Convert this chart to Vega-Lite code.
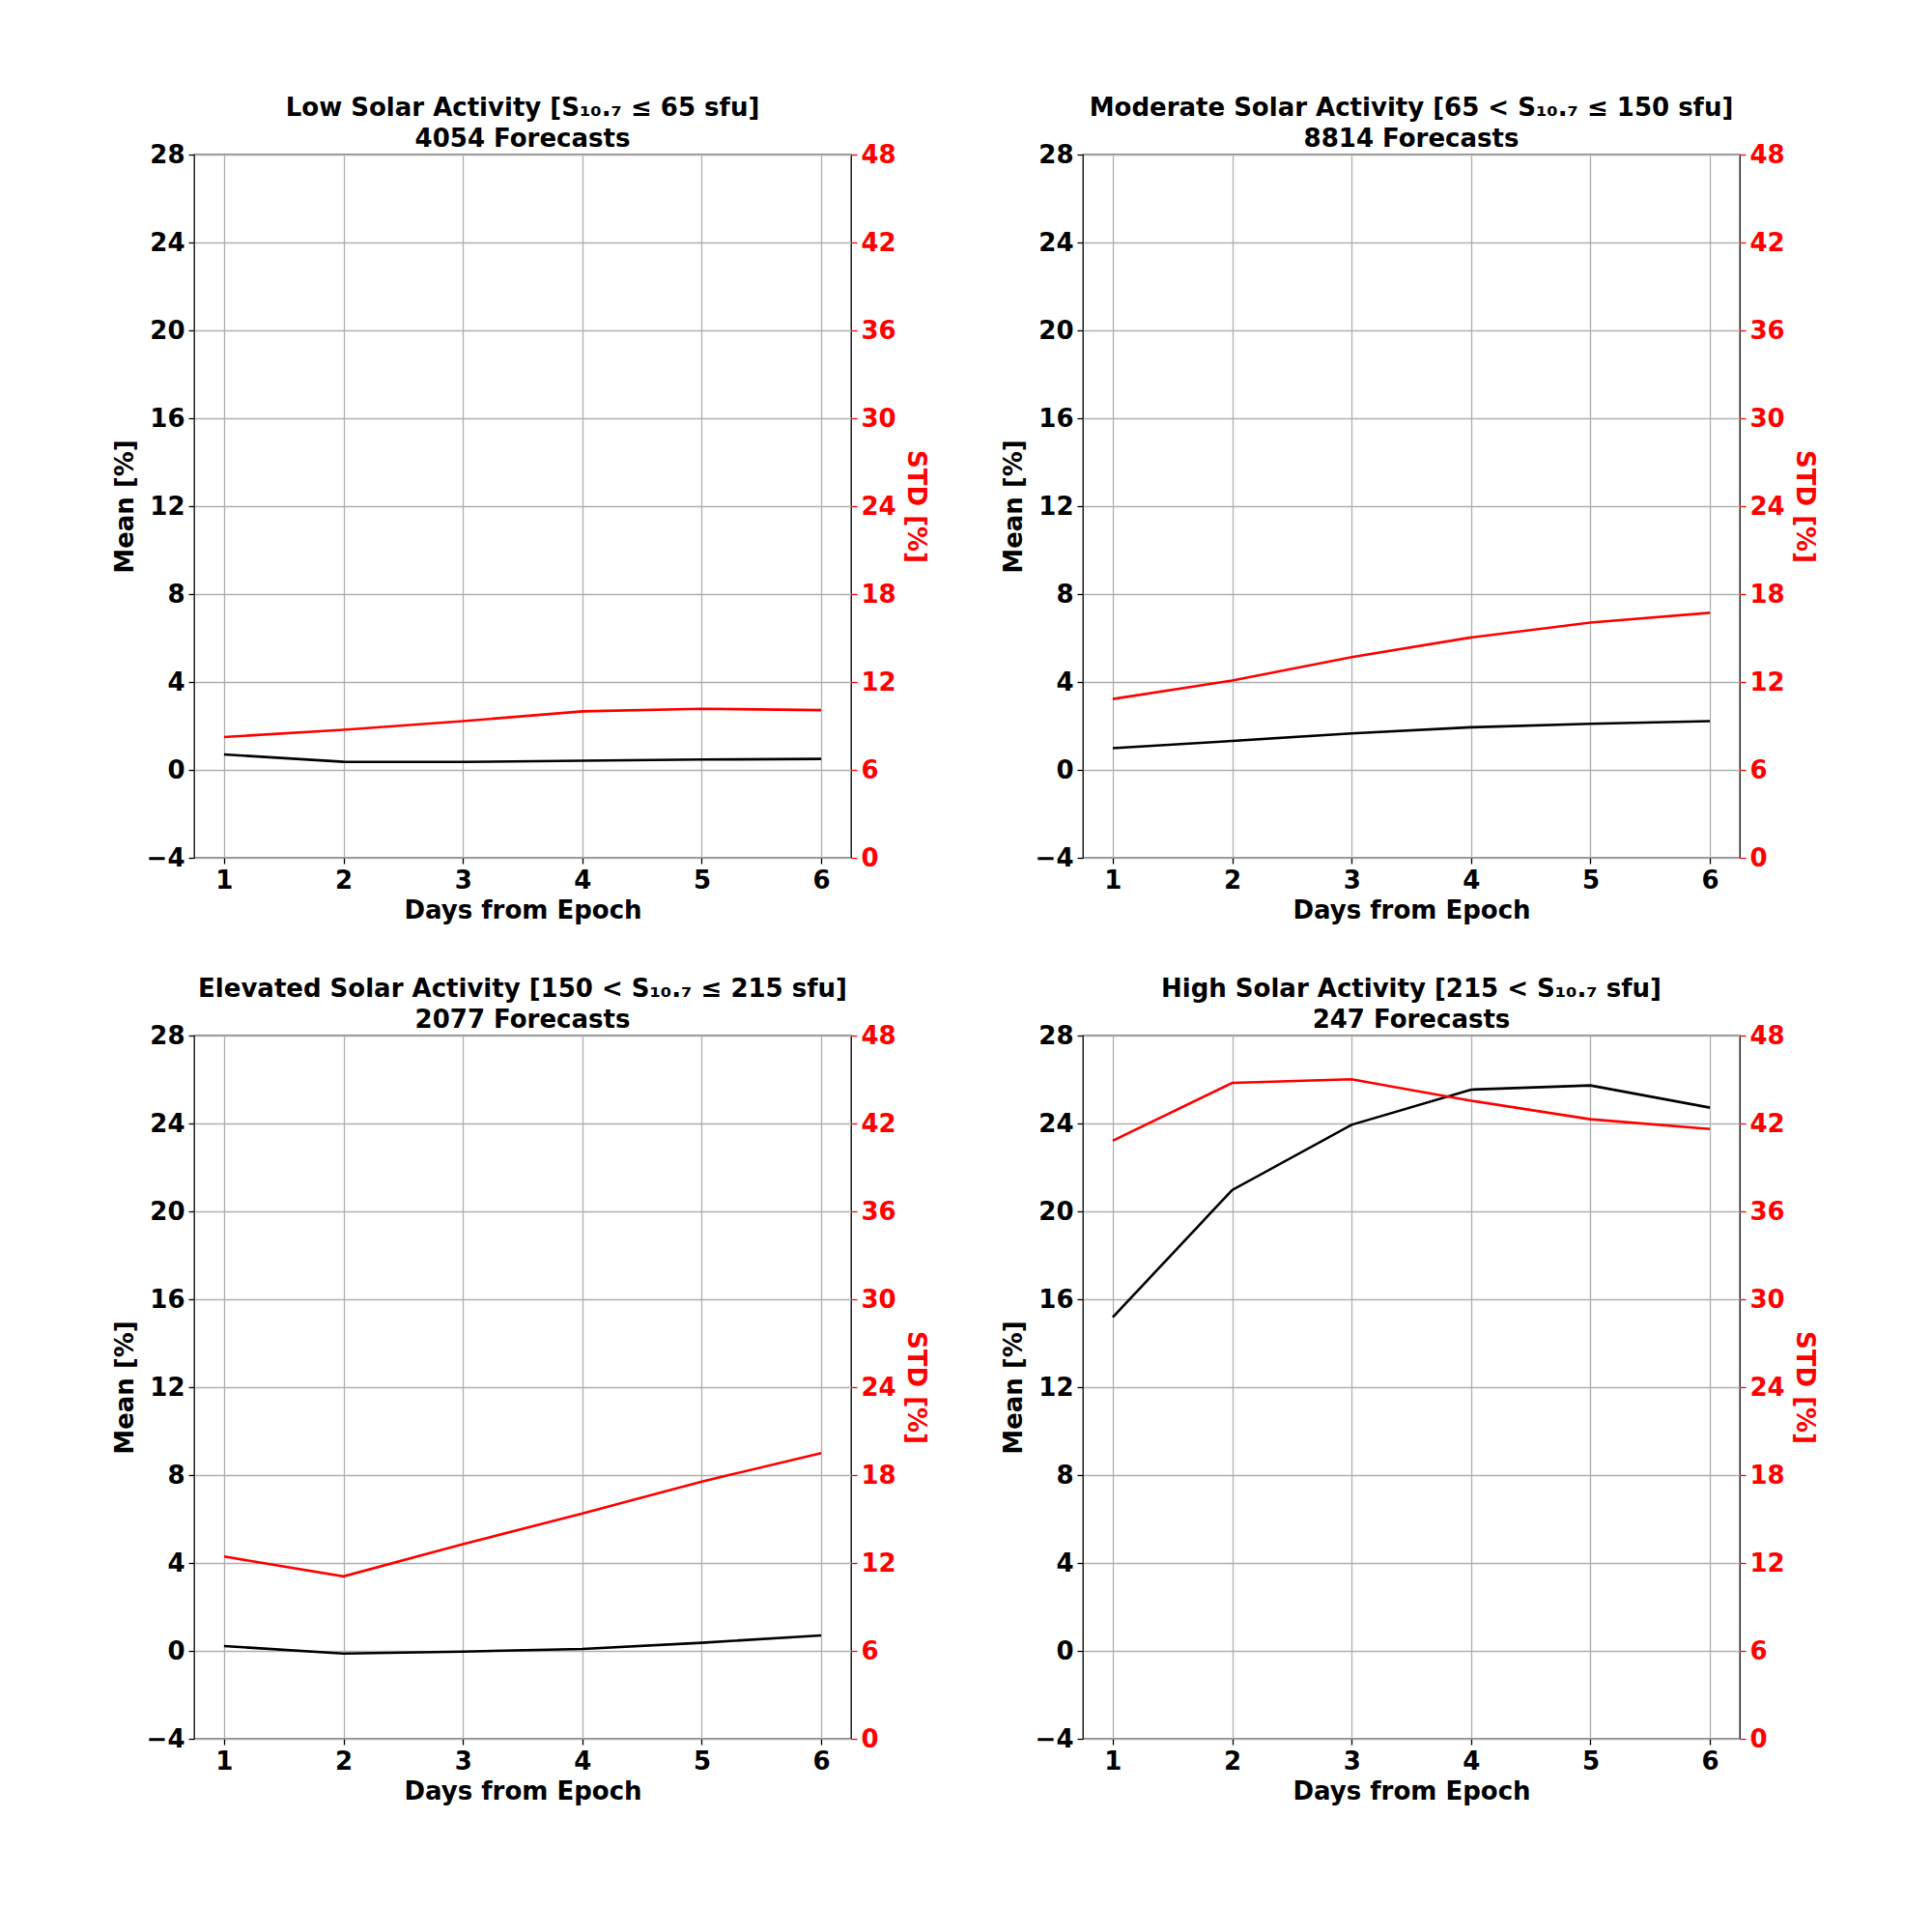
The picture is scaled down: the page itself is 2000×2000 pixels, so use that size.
{
  "$schema": "https://vega.github.io/schema/vega-lite/v6.json",
  "background": "white",
  "padding": {"left": 115, "top": 98, "right": 5, "bottom": 5},
  "datasets": {
    "forecasts": [
      {"activity": "Low", "day": 1, "mean": 0.70, "std": 8.24},
      {"activity": "Low", "day": 2, "mean": 0.37, "std": 8.74},
      {"activity": "Low", "day": 3, "mean": 0.36, "std": 9.33},
      {"activity": "Low", "day": 4, "mean": 0.42, "std": 10.0},
      {"activity": "Low", "day": 5, "mean": 0.47, "std": 10.17},
      {"activity": "Low", "day": 6, "mean": 0.50, "std": 10.08},
      {"activity": "Moderate", "day": 1, "mean": 0.99, "std": 10.84},
      {"activity": "Moderate", "day": 2, "mean": 1.32, "std": 12.1},
      {"activity": "Moderate", "day": 3, "mean": 1.66, "std": 13.7},
      {"activity": "Moderate", "day": 4, "mean": 1.94, "std": 15.04},
      {"activity": "Moderate", "day": 5, "mean": 2.10, "std": 16.05},
      {"activity": "Moderate", "day": 6, "mean": 2.22, "std": 16.72},
      {"activity": "Elevated", "day": 1, "mean": 0.22, "std": 12.44},
      {"activity": "Elevated", "day": 2, "mean": -0.12, "std": 11.09},
      {"activity": "Elevated", "day": 3, "mean": -0.03, "std": 13.28},
      {"activity": "Elevated", "day": 4, "mean": 0.09, "std": 15.38},
      {"activity": "Elevated", "day": 5, "mean": 0.37, "std": 17.56},
      {"activity": "Elevated", "day": 6, "mean": 0.70, "std": 19.5},
      {"activity": "High", "day": 1, "mean": 15.18, "std": 40.82},
      {"activity": "High", "day": 2, "mean": 20.97, "std": 44.77},
      {"activity": "High", "day": 3, "mean": 23.94, "std": 45.02},
      {"activity": "High", "day": 4, "mean": 25.54, "std": 43.55},
      {"activity": "High", "day": 5, "mean": 25.73, "std": 42.29},
      {"activity": "High", "day": 6, "mean": 24.72, "std": 41.62}
    ]
  },
  "columns": 2,
  "spacing": {"row": 54, "column": 74},
  "concat": [
    {
      "title": {"text": ["Low Solar Activity [S₁₀.₇ ≤  65 sfu]", "4054 Forecasts"]},
      "width": 680, "height": 728,
      "data": {"name": "forecasts"},
      "transform": [{"filter": "datum.activity === 'Low'"}],
      "encoding": {
        "x": {"field": "day", "type": "quantitative",
          "scale": {"domain": [0.75, 6.25], "nice": false, "zero": false},
          "axis": {"title": "Days from Epoch", "values": [1, 2, 3, 4, 5, 6], "format": "d", "grid": true, "titlePadding": 5}}
      },
      "layer": [
        {"mark": {"type": "line", "color": "black"},
          "encoding": {"y": {"field": "mean", "type": "quantitative",
            "scale": {"domain": [-4, 28], "nice": false, "zero": false},
            "axis": {"title": "Mean [%]", "orient": "left", "values": [-4, 0, 4, 8, 12, 16, 20, 24, 28], "grid": true}}}},
        {"mark": {"type": "line", "color": "#ff0000"},
          "encoding": {"y": {"field": "std", "type": "quantitative",
            "scale": {"domain": [0, 48], "nice": false, "zero": false},
            "axis": {"title": "STD [%]", "orient": "right", "values": [0, 6, 12, 18, 24, 30, 36, 42, 48], "grid": false,
              "labelColor": "#ff0000", "tickColor": "#ff0000", "titleColor": "#ff0000", "titlePadding": 7}}}}
      ],
      "resolve": {"scale": {"y": "independent"}}
    },
    {
      "title": {"text": ["Moderate Solar Activity [65 < S₁₀.₇ ≤  150 sfu]", "8814 Forecasts"]},
      "width": 680, "height": 728,
      "data": {"name": "forecasts"},
      "transform": [{"filter": "datum.activity === 'Moderate'"}],
      "encoding": {
        "x": {"field": "day", "type": "quantitative",
          "scale": {"domain": [0.75, 6.25], "nice": false, "zero": false},
          "axis": {"title": "Days from Epoch", "values": [1, 2, 3, 4, 5, 6], "format": "d", "grid": true, "titlePadding": 5}}
      },
      "layer": [
        {"mark": {"type": "line", "color": "black"},
          "encoding": {"y": {"field": "mean", "type": "quantitative",
            "scale": {"domain": [-4, 28], "nice": false, "zero": false},
            "axis": {"title": "Mean [%]", "orient": "left", "values": [-4, 0, 4, 8, 12, 16, 20, 24, 28], "grid": true}}}},
        {"mark": {"type": "line", "color": "#ff0000"},
          "encoding": {"y": {"field": "std", "type": "quantitative",
            "scale": {"domain": [0, 48], "nice": false, "zero": false},
            "axis": {"title": "STD [%]", "orient": "right", "values": [0, 6, 12, 18, 24, 30, 36, 42, 48], "grid": false,
              "labelColor": "#ff0000", "tickColor": "#ff0000", "titleColor": "#ff0000", "titlePadding": 7}}}}
      ],
      "resolve": {"scale": {"y": "independent"}}
    },
    {
      "title": {"text": ["Elevated Solar Activity [150 < S₁₀.₇ ≤  215 sfu]", "2077 Forecasts"]},
      "width": 680, "height": 728,
      "data": {"name": "forecasts"},
      "transform": [{"filter": "datum.activity === 'Elevated'"}],
      "encoding": {
        "x": {"field": "day", "type": "quantitative",
          "scale": {"domain": [0.75, 6.25], "nice": false, "zero": false},
          "axis": {"title": "Days from Epoch", "values": [1, 2, 3, 4, 5, 6], "format": "d", "grid": true, "titlePadding": 5}}
      },
      "layer": [
        {"mark": {"type": "line", "color": "black"},
          "encoding": {"y": {"field": "mean", "type": "quantitative",
            "scale": {"domain": [-4, 28], "nice": false, "zero": false},
            "axis": {"title": "Mean [%]", "orient": "left", "values": [-4, 0, 4, 8, 12, 16, 20, 24, 28], "grid": true}}}},
        {"mark": {"type": "line", "color": "#ff0000"},
          "encoding": {"y": {"field": "std", "type": "quantitative",
            "scale": {"domain": [0, 48], "nice": false, "zero": false},
            "axis": {"title": "STD [%]", "orient": "right", "values": [0, 6, 12, 18, 24, 30, 36, 42, 48], "grid": false,
              "labelColor": "#ff0000", "tickColor": "#ff0000", "titleColor": "#ff0000", "titlePadding": 7}}}}
      ],
      "resolve": {"scale": {"y": "independent"}}
    },
    {
      "title": {"text": ["High Solar Activity [215 < S₁₀.₇ sfu]", "247 Forecasts"]},
      "width": 680, "height": 728,
      "data": {"name": "forecasts"},
      "transform": [{"filter": "datum.activity === 'High'"}],
      "encoding": {
        "x": {"field": "day", "type": "quantitative",
          "scale": {"domain": [0.75, 6.25], "nice": false, "zero": false},
          "axis": {"title": "Days from Epoch", "values": [1, 2, 3, 4, 5, 6], "format": "d", "grid": true, "titlePadding": 5}}
      },
      "layer": [
        {"mark": {"type": "line", "color": "black"},
          "encoding": {"y": {"field": "mean", "type": "quantitative",
            "scale": {"domain": [-4, 28], "nice": false, "zero": false},
            "axis": {"title": "Mean [%]", "orient": "left", "values": [-4, 0, 4, 8, 12, 16, 20, 24, 28], "grid": true}}}},
        {"mark": {"type": "line", "color": "#ff0000"},
          "encoding": {"y": {"field": "std", "type": "quantitative",
            "scale": {"domain": [0, 48], "nice": false, "zero": false},
            "axis": {"title": "STD [%]", "orient": "right", "values": [0, 6, 12, 18, 24, 30, 36, 42, 48], "grid": false,
              "labelColor": "#ff0000", "tickColor": "#ff0000", "titleColor": "#ff0000", "titlePadding": 7}}}}
      ],
      "resolve": {"scale": {"y": "independent"}}
    }
  ],
  "config": {
    "font": "DejaVu Sans",
    "view": {"stroke": "black", "strokeWidth": 1.3},
    "line": {"strokeWidth": 2.6},
    "axis": {
      "labelFont": "DejaVu Sans", "labelFontSize": 26, "labelFontWeight": "bold", "labelColor": "black",
      "titleFont": "DejaVu Sans", "titleFontSize": 26, "titleFontWeight": "bold", "titleColor": "black",
      "tickColor": "black", "tickSize": 6, "tickWidth": 1.3, "labelPadding": 4, "titlePadding": 9,
      "gridColor": "#b0b0b0", "gridWidth": 1.3, "domain": false, "labelFlush": false, "labelOverlap": false
    },
    "title": {
      "font": "DejaVu Sans", "fontSize": 26, "fontWeight": "bold", "color": "black",
      "anchor": "middle", "frame": "group", "offset": -10, "lineHeight": 32
    }
  }
}
